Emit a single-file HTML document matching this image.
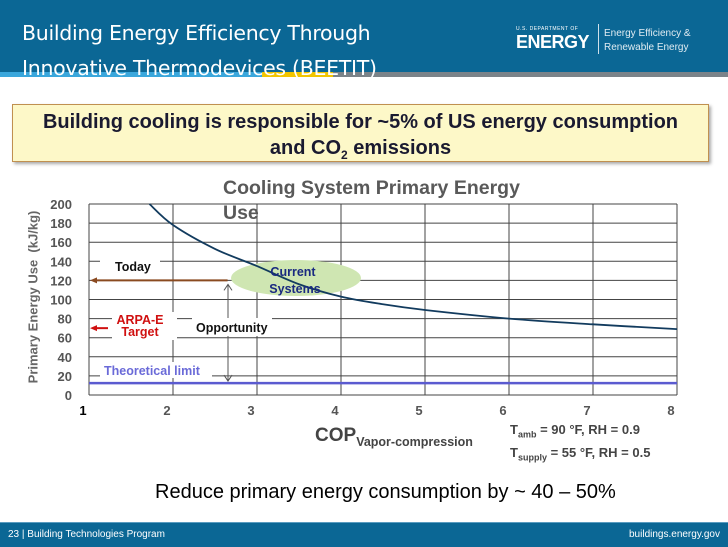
<!DOCTYPE html>
<html><head><meta charset="utf-8"><style>
body{margin:0;width:728px;height:546px;position:relative;background:#fff;font-family:"Liberation Sans",sans-serif;overflow:hidden}
.a{position:absolute;white-space:nowrap}
</style></head><body>
<div class="a" style="left:0;top:0;width:728px;height:72px;background:#0b6795"></div>
<div class="a" style="left:0;top:72px;width:728px;height:5px;background:#7b8389"></div>
<div class="a" style="left:0;top:72px;width:262px;height:5px;background:#3aa7dc"></div>
<div class="a" style="left:262px;top:72px;width:71px;height:5px;background:#f2c500"></div>
<div class="a" style="left:22px;top:16px;color:#fff;font-family:'DejaVu Sans',sans-serif;font-size:20.5px;line-height:35px;letter-spacing:-0.3px">Building Energy Efficiency Through<br>Innovative Thermodevices (BEETIT)</div>
<div class="a" style="left:516px;top:26px;color:#fff">
<div style="font-size:5px;letter-spacing:.5px">U.S. DEPARTMENT OF</div>
<div style="font-size:18px;font-weight:bold;line-height:20px;letter-spacing:-0.5px">ENERGY</div></div>
<div class="a" style="left:598px;top:24px;width:1px;height:30px;background:#cfe0ea"></div>
<div class="a" style="left:604px;top:27px;color:#e0ecf2;font-size:10px;line-height:14px">Energy Efficiency &amp;<br>Renewable Energy</div>
<div class="a" style="left:12px;top:104px;width:697px;height:58px;background:#fdf8c8;border:1px solid #c09050;box-shadow:2px 2px 3px #aaa;text-align:center;font-weight:bold;font-size:20px;line-height:26px;color:#1a1a30;padding-top:4px;box-sizing:border-box">Building cooling is responsible for ~5% of US energy consumption<br>and CO<sub style="font-size:12px">2</sub> emissions</div>
<svg class="a" style="left:0;top:0" width="728" height="546" id="chart"></svg>
<div class="a" style="left:33px;top:297px;transform:translate(-50%,-50%) rotate(-90deg);font-weight:bold;font-size:13px;color:#666">Primary Energy Use&nbsp; (kJ/kg)</div>
<div class="a" style="left:223px;top:176px;font-weight:bold;font-size:19.5px;line-height:25px;color:#595959">Cooling System Primary Energy<br>Use</div>
<div class="a" style="left:315px;top:425px;font-weight:bold;font-size:19px;color:#444">COP<span style="font-size:12.5px;position:relative;top:5px">Vapor-compression</span></div>
<div class="a" style="left:510px;top:421px;font-weight:bold;font-size:13px;line-height:18px;color:#444">T<sub style="font-size:9px">amb</sub> = 90 °F, RH = 0.9<br>T<sub style="font-size:9px">supply</sub> = 55 °F, RH = 0.5</div>
<div class="a" style="left:155px;top:481px;font-size:20px;color:#000">Reduce primary energy consumption by ~ 40 – 50%</div>
<div class="a" style="left:0;top:522px;width:728px;height:24px;background:#0b6795;border-top:1px solid #5a9cc0"></div>
<div class="a" style="left:8px;top:529px;color:#fff;font-size:10px">23 | Building Technologies Program</div>
<div class="a" style="right:8px;top:529px;color:#fff;font-size:10px">buildings.energy.gov</div>
<script>
const xTicks=[1,2,3,4,5,6,7,8];
const yTicks=[0,20,40,60,80,100,120,140,160,180,200];
const copValues=[1.72,2,2.5,3,3.5,4,4.5,5,6,7,8];
const energyValues=[200,178,153,135,116,103,95,89,80,74,69];
const theoreticalLimit=[12.5];
const todayLevel=[120];
const targetLevel=[70];
const NS='http://www.w3.org/2000/svg';
const svg=document.getElementById('chart');
const X=v=>89+(v-1)*84;
const Y=v=>395-v*0.955;
function mk(t,a,txt){const e=document.createElementNS(NS,t);for(const k in a)e.setAttribute(k,a[k]);if(txt!==undefined)e.textContent=txt;svg.appendChild(e);return e;}
let e;
yTicks.forEach(t=>{e=mk('line',{x1:X(1),x2:X(8),y1:Y(t),y2:Y(t),stroke:'#444','stroke-width':1});

e=mk('text',{x:72,y:Y(t)+5,'text-anchor':'end','font-size':13,'font-weight':'bold',fill:'#555','font-family':'Liberation Sans'},t);
});
xTicks.forEach(t=>{e=mk('line',{x1:X(t),x2:X(t),y1:Y(0),y2:Y(200),stroke:'#444','stroke-width':1});

e=mk('text',{x:X(t)-6,y:415,'text-anchor':'middle','font-size':13,'font-weight':'bold',fill:t==1?'#000':'#555','font-family':'Liberation Sans'},t);
});
e=mk('ellipse',{cx:296,cy:278,rx:65,ry:18,fill:'#cfe6b2'});

e=mk('rect',{x:100,y:258,width:60,height:18,fill:'#fff'});
e=mk('rect',{x:112,y:312,width:65,height:28,fill:'#fff'});
e=mk('rect',{x:100,y:362,width:112,height:16,fill:'#fff'});
e=mk('line',{x1:X(1),x2:X(8),y1:Y(theoreticalLimit[0]),y2:Y(theoreticalLimit[0]),stroke:'#5b5bd0','stroke-width':2.5});

const pts=copValues.map((c,i)=>[X(c),Y(energyValues[i])]);
let d='M'+pts[0][0]+','+pts[0][1];
for(let i=0;i<pts.length-1;i++){const p0=pts[i-1]||pts[i],p1=pts[i],p2=pts[i+1],p3=pts[i+2]||p2;
d+=` C${p1[0]+(p2[0]-p0[0])/6},${p1[1]+(p2[1]-p0[1])/6} ${p2[0]-(p3[0]-p1[0])/6},${p2[1]-(p3[1]-p1[1])/6} ${p2[0]},${p2[1]}`;}
e=mk('path',{d:d,fill:'none',stroke:'#123b5e','stroke-width':1.8});

e=mk('line',{x1:X(2.65),x2:X(1)+6,y1:Y(todayLevel[0]),y2:Y(todayLevel[0]),stroke:'#8a4a20','stroke-width':2});

e=mk('path',{d:`M${X(1)+1},${Y(todayLevel[0])} l7,-3 l0,6z`,fill:'#8a4a20'});
e=mk('line',{x1:108,x2:X(1)+6,y1:Y(targetLevel[0]),y2:Y(targetLevel[0]),stroke:'#d01010','stroke-width':2});

e=mk('path',{d:`M${X(1)+1},${Y(targetLevel[0])} l7,-3 l0,6z`,fill:'#d01010'});
e=mk('line',{x1:228,x2:228,y1:Y(todayLevel[0])+5,y2:Y(theoreticalLimit[0])-2,stroke:'#555','stroke-width':1});

e=mk('path',{d:`M224,${Y(todayLevel[0])+10} l4,-6 l4,6 M224,${Y(theoreticalLimit[0])-8} l4,6 l4,-6`,fill:'none',stroke:'#555'});

e=mk('rect',{x:192,y:318,width:80,height:18,fill:'#fff'});
const T=(x,y,s,c,name,anchor)=>{e=mk('text',{x:x,y:y,'font-size':12.5,'font-weight':'bold',fill:c,'text-anchor':anchor||'start','font-family':'Liberation Sans'},s);};
T(115,271,'Today','#111','today-label');
T(140,324,'ARPA-E','#d01010','arpa-label','middle');
T(140,336,'Target','#d01010','target-label','middle');
T(196,332,'Opportunity','#111','opportunity-label');
T(104,375,'Theoretical limit','#6a6ad8','theoretical-limit-label');
T(293,276,'Current','#1a2a80','current-label','middle');
T(295,293,'Systems','#1a2a80','systems-label','middle');
</script>
</body></html>
